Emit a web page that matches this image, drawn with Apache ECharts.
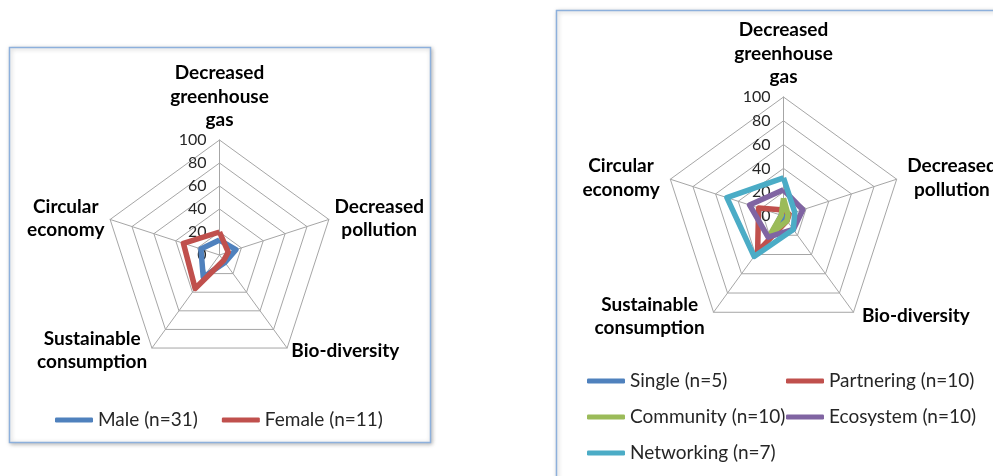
<!DOCTYPE html>
<html>
<head>
<meta charset="utf-8">
<script src="https://cdn.jsdelivr.net/npm/echarts@6/dist/echarts.min.js"></script>
<style>
html,body{margin:0;padding:0;background:#fff;}
#c{width:993px;height:476px;}
</style>
</head>
<body>
<div id="c"></div>
<script>
// Axes in clockwise order as drawn in the reference (top first)
var categories = ['Decreased\ngreenhouse\ngas', 'Decreased\npollution', 'Bio-diversity', 'Sustainable\nconsumption', 'Circular\neconomy'];
var tickLabels = [0, 20, 40, 60, 80, 100];

// Left chart
var leftNames = ['Male (n=31)', 'Female (n=11)'];
var male   = [13, 15, 8, 24, 17];
var female = [20, 8, 6, 36, 33];

// Right chart
var rightNames = ['Single (n=5)', 'Partnering (n=10)', 'Community (n=10)', 'Ecosystem (n=10)', 'Networking (n=7)'];
var single     = [12, 3, 3, 14, 2];
var partnering = [5, 5, 5, 37, 22];
var community  = [15, 4, 5, 19, 2];
var ecosystem  = [22, 17, 14, 22, 30];
var networking = [32, 10, 14, 42, 50];

var leftColors  = ['#4F81BD', '#C0504D'];
var rightColors = ['#4F81BD', '#C0504D', '#9BBB59', '#8064A2', '#4BACC6'];

// ECharts places indicators counter-clockwise; reorder to get clockwise
var order = [0, 4, 3, 2, 1];
function ro(arr) { return order.map(function (i) { return arr[i]; }); }

var FONT = 'Lato';
var NAME_SIZE = 19, NAME_LH = 23.5;

// rich styles: each multi-line name centred line-by-line inside its own block
var ctx = document.createElement('canvas').getContext('2d');
ctx.font = 'bold ' + NAME_SIZE + 'px ' + FONT;
function makeRich(hpad) {
  var rich = {};
  categories.forEach(function (c, i) {
    var w = Math.max.apply(null, c.split('\n').map(function (l) { return ctx.measureText(l).width; }));
    rich['n' + i] = { width: Math.ceil(w) + 1, align: 'center', color: '#000', fontWeight: 'bold',
      fontSize: NAME_SIZE, fontFamily: FONT, lineHeight: NAME_LH, padding: [0, hpad, 0, hpad] };
  });
  return rich;
}
function nameFmt(name) {
  var i = categories.indexOf(name);
  return name.split('\n').map(function (l) { return '{n' + i + '|' + l + '}'; }).join('\n');
}

function indicators() {
  return ro(categories).map(function (n, k) {
    var o = { name: n, min: 0, max: 100 };
    if (k === 0) {
      o.axisLabel = { show: true, color: '#262626', fontSize: 16, fontFamily: FONT, margin: 13,
        formatter: function (v) { return tickLabels.indexOf(v) >= 0 ? String(v) : ''; } };
    }
    return o;
  });
}
function radarCfg(center, radius, gap, hpad) {
  return {
    center: center, radius: radius, startAngle: 90, splitNumber: 5, shape: 'polygon',
    indicator: indicators(), nameGap: gap,
    axisName: { color: '#000', fontWeight: 'bold', fontSize: NAME_SIZE, fontFamily: FONT, lineHeight: NAME_LH,
      formatter: nameFmt, rich: makeRich(hpad) },
    splitLine: { lineStyle: { color: '#a6a6a6', width: 1 } },
    splitArea: { show: false },
    axisLine: { lineStyle: { color: '#a6a6a6', width: 1 } },
    axisTick: { show: false },
    axisLabel: { show: false }
  };
}
function items(names, arrs, colors) {
  return names.map(function (n, i) {
    return { name: n, value: ro(arrs[i]), symbol: 'none',
      lineStyle: { color: colors[i], width: 5.5 }, itemStyle: { color: colors[i] } };
  });
}
var legendText = { color: '#262626', fontSize: 19, fontFamily: FONT, lineHeight: 20 };

var chart = echarts.init(document.getElementById('c'), null, { renderer: 'canvas' });
chart.setOption({
  animation: false,
  graphic: [
    { type: 'rect', z: -10, shape: { x: 9.5, y: 47.5, width: 421, height: 395 },
      style: { fill: '#fff', stroke: '#8DB0DC', lineWidth: 1.5, shadowBlur: 4, shadowColor: 'rgba(0,0,0,0.25)', shadowOffsetX: 1, shadowOffsetY: 1 } },
    { type: 'rect', z: -10, shape: { x: 556.5, y: 10.5, width: 500, height: 500 },
      style: { fill: '#fff', stroke: '#8DB0DC', lineWidth: 1.5, shadowBlur: 4, shadowColor: 'rgba(0,0,0,0.25)', shadowOffsetX: 1, shadowOffsetY: 1 } }
  ],
  radar: [ radarCfg([219.5, 255], 115, 3, 2), radarCfg([783.5, 216], 119, 5, 5) ],
  legend: [
    { data: leftNames, left: 55, top: 410, padding: 0, itemWidth: 38, itemHeight: 5, icon: 'roundRect', itemGap: 24, textStyle: legendText },
    { data: [rightNames[0], rightNames[2], rightNames[4]], orient: 'vertical', left: 587, top: 371, padding: 0, itemWidth: 38, itemHeight: 5, icon: 'roundRect', itemGap: 16, textStyle: legendText },
    { data: [rightNames[1], rightNames[3]], orient: 'vertical', left: 786, top: 371, padding: 0, itemWidth: 38, itemHeight: 5, icon: 'roundRect', itemGap: 16, textStyle: legendText }
  ],
  series: [
    { type: 'radar', radarIndex: 0, data: items(leftNames, [male, female], leftColors) },
    { type: 'radar', radarIndex: 1, data: items(rightNames, [single, partnering, community, ecosystem, networking], rightColors) }
  ]
});
</script>
</body>
</html>
